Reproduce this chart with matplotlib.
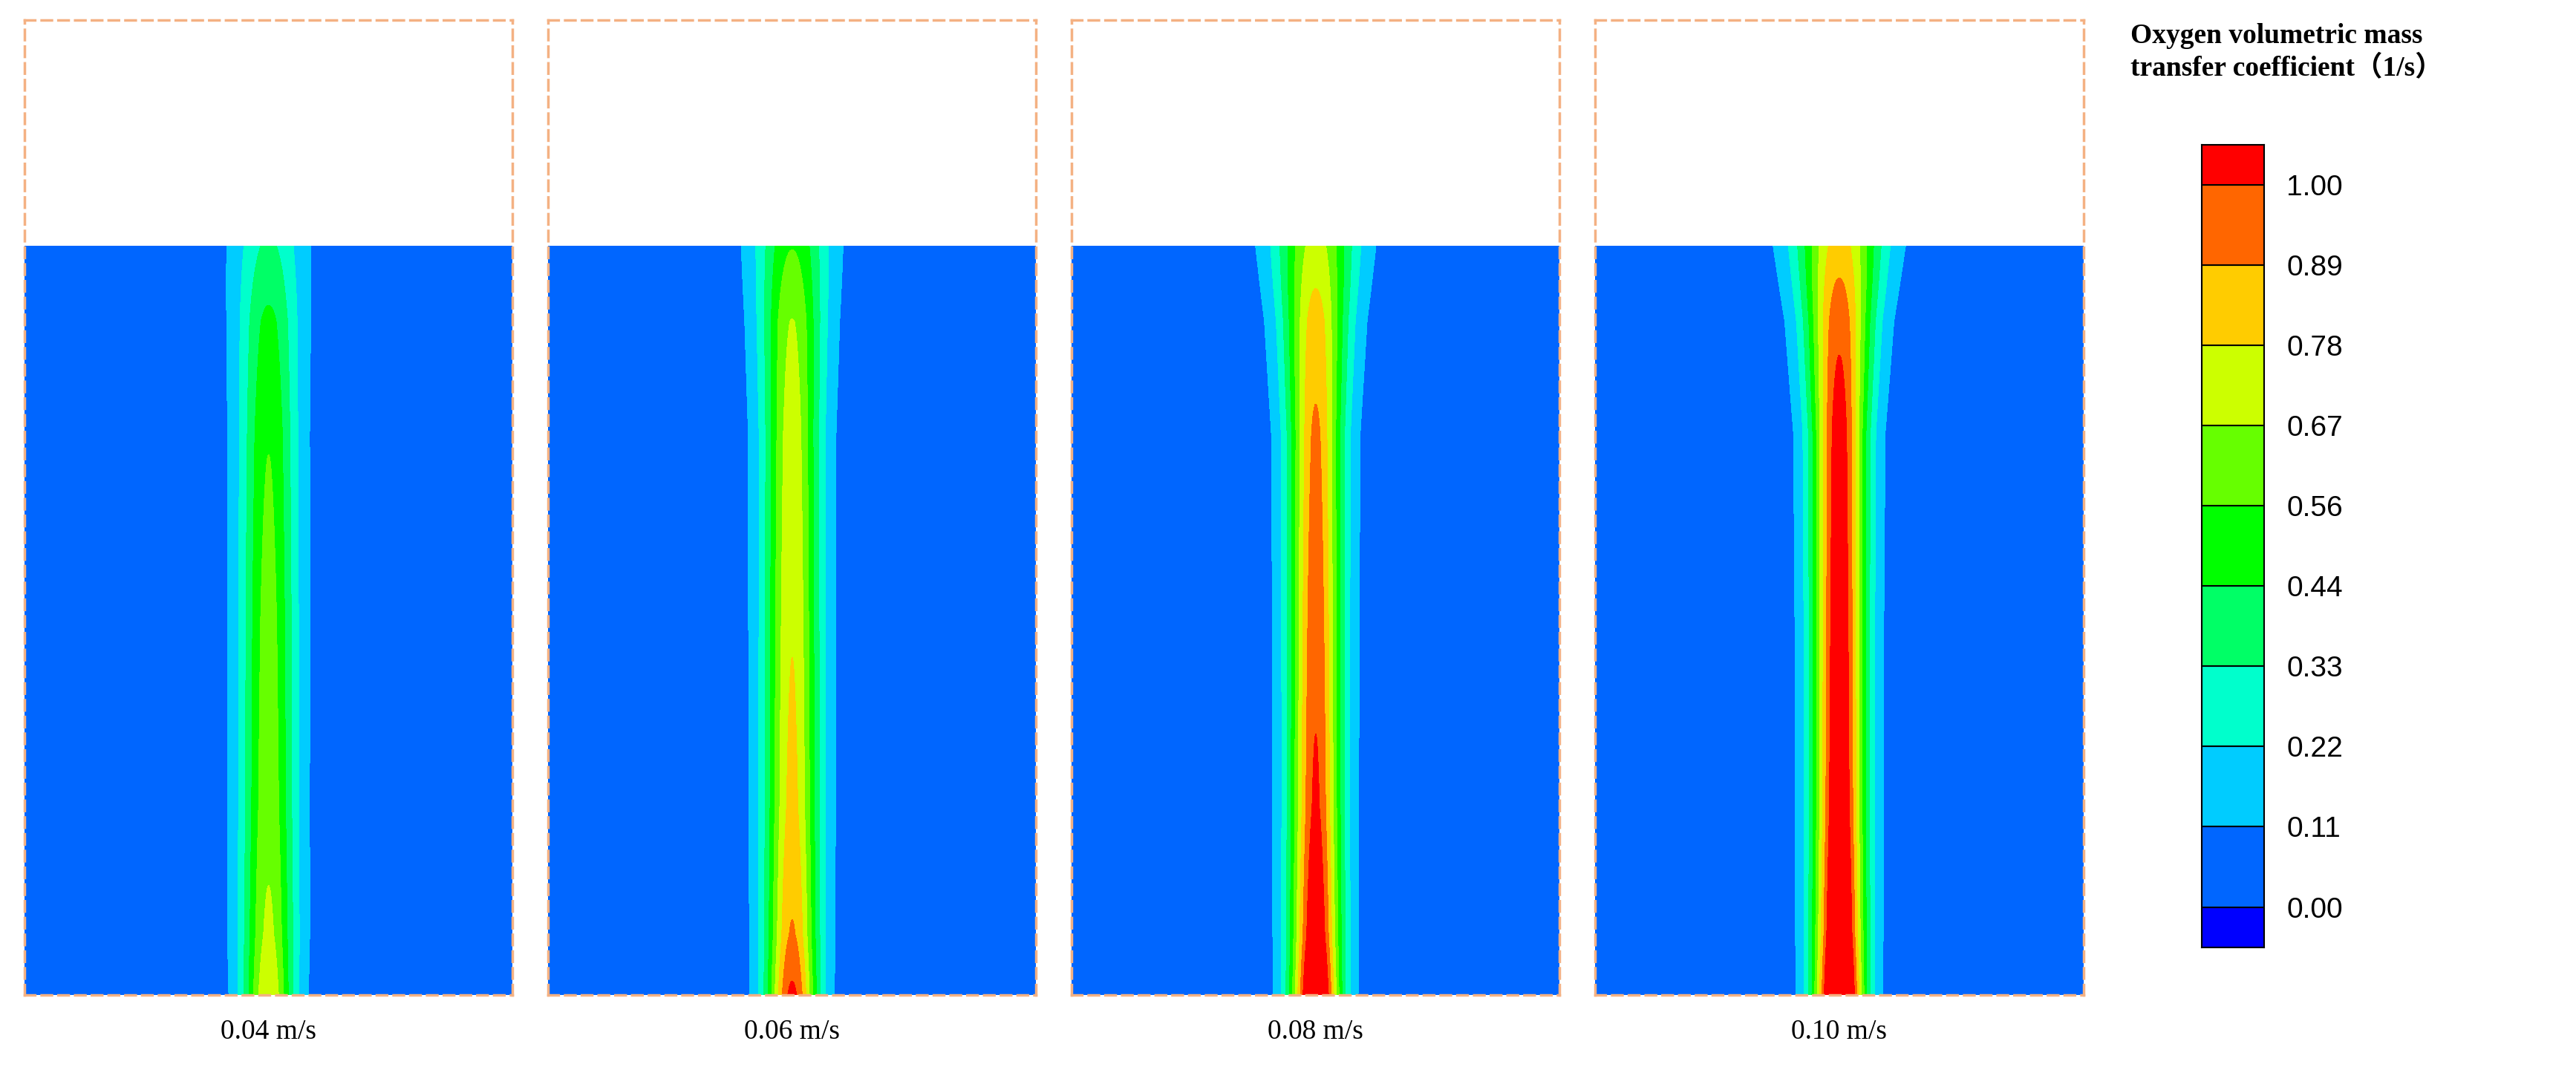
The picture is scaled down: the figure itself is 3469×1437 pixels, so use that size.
import numpy as np
import matplotlib
matplotlib.use("Agg")
import matplotlib.pyplot as plt
from matplotlib.patches import Rectangle

velocities = ["0.04 m/s", "0.06 m/s", "0.08 m/s", "0.10 m/s"]
heights = [0.0, 0.08, 0.25, 0.5, 0.75, 0.9, 1.0]          # relative liquid height
center_vals = [
    [0.72, 0.64, 0.58, 0.55, 0.50, 0.42, 0.30],
    [0.98, 0.85, 0.76, 0.72, 0.68, 0.62, 0.50],
    [1.25, 1.08, 0.97, 0.92, 0.86, 0.78, 0.66],
    [1.40, 1.22, 1.10, 1.06, 1.02, 0.92, 0.78],
]
half_widths = [
    [0.052, 0.055, 0.056, 0.057, 0.058, 0.062, 0.068],
    [0.052, 0.054, 0.056, 0.057, 0.058, 0.064, 0.072],
    [0.050, 0.052, 0.053, 0.054, 0.056, 0.066, 0.080],
    [0.050, 0.052, 0.053, 0.054, 0.056, 0.068, 0.085],
]
background = 0.05
tick_labels = ["0.00", "0.11", "0.22", "0.33", "0.44", "0.56", "0.67", "0.78", "0.89", "1.00"]
colors = ["#0000FF", "#0066FF", "#00CCFF", "#00FFCC", "#00FF66", "#00FF00",
          "#66FF00", "#CCFF00", "#FFCC00", "#FF6600", "#FF0000"]
levels = [-1.0] + list(np.linspace(0, 1, 10)) + [5.0]

fig = plt.figure(figsize=(34.69, 14.37), dpi=100)
W = 1568.0; H = 650.0
air_ratio = 138 / 456
x = np.linspace(-0.5, 0.5, 600)
y = np.linspace(0, 1, 400)
X, Y = np.meshgrid(x, y)
for i, lab in enumerate(velocities):
    left = (15 + i * 318.7) / W
    ax = fig.add_axes([left, (650 - 606) / H, 297 / W, 594 / H])
    c = np.interp(y, heights, center_vals[i])[:, None]
    w = np.interp(y, heights, half_widths[i])[:, None]
    Z = background + c * np.exp(-(X / w) ** 2)
    ax.contourf(X, Y, Z, levels=levels, colors=colors)
    ax.set_xlim(-0.5, 0.5)
    ax.set_ylim(0, 1 + air_ratio)
    ax.set_xticks([]); ax.set_yticks([])
    for s in ax.spines.values():
        s.set_linestyle((0, (4, 2.5)))
        s.set_color("#F4B183")
        s.set_linewidth(2.5)
    ax.text(0.5, -0.025, lab, transform=ax.transAxes, ha="center", va="top",
            fontsize=27, family="Liberation Serif")

# colorbar
cax = fig.add_axes([1340 / W, (650 - 577) / H, 38 / W, 489 / H])
step = 1 / 9
bounds = [-step / 2] + list(np.linspace(0, 1, 10)) + [1 + step / 2]
for k in range(11):
    cax.add_patch(Rectangle((0, bounds[k]), 1, bounds[k + 1] - bounds[k],
                            facecolor=colors[k], edgecolor="black", linewidth=1.5))
cax.set_xlim(0, 1)
cax.set_ylim(bounds[0], bounds[-1])
cax.set_xticks([])
cax.set_yticks(np.linspace(0, 1, 10))
cax.set_yticklabels(tick_labels)
cax.yaxis.tick_right()
cax.tick_params(axis="y", length=0, pad=22, labelsize=28)
for t in cax.get_yticklabels():
    t.set_family("Liberation Sans")
for s in cax.spines.values():
    s.set_linewidth(1.5)

fig.text(1297 / W, 1 - 32 / H, "Oxygen volumetric mass\ntransfer coefficient\uff081/s\uff09",
         ha="left", va="center", fontsize=27, fontweight="bold",
         family=["Liberation Serif", "Noto Sans CJK SC"], linespacing=1.3)

fig.savefig("out.png", dpi=100)
